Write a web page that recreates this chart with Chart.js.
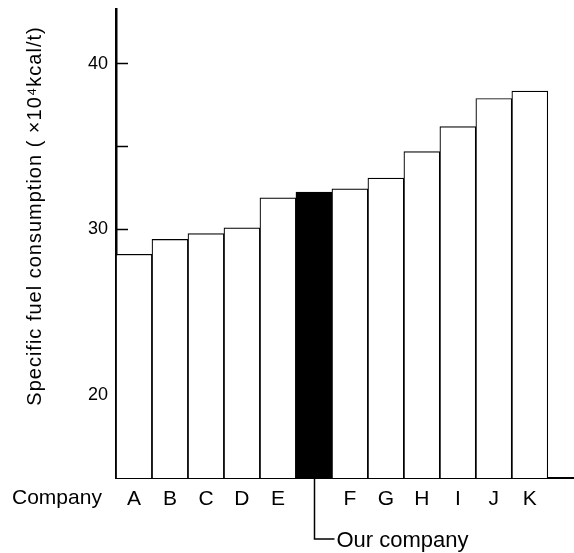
<!DOCTYPE html>
<html>
<head>
<meta charset="utf-8">
<script src="https://cdn.jsdelivr.net/npm/chart.js@4/dist/chart.umd.min.js"></script>
<style>
  html, body { margin: 0; padding: 0; background: #fff; }
  #wrap { width: 574px; height: 553px; }
</style>
</head>
<body>
<div id="wrap"><canvas id="c" width="574" height="553"></canvas></div>
<script>
// ---- data ----
const companies = ['A', 'B', 'C', 'D', 'E', 'Our company', 'F', 'G', 'H', 'I', 'J', 'K'];
const fuelConsumption = [28.5, 29.4, 29.75, 30.1, 31.9, 32.25, 32.45, 33.1, 34.7, 36.2, 37.9, 38.35];
const highlightCompany = 'Our company';
const yTickValues = [20, 25, 30, 35, 40];
const yTickLabels = ['20', '', '30', '', '40'];
const yTitle = 'Specific fuel consumption ( \u00d710\u2074kcal/t)';
const xRowLabel = 'Company';

const FONT = '"Liberation Sans", Arial, Helvetica, sans-serif';
const ourIndex = companies.indexOf(highlightCompany);

const annotations = {
  id: 'annotations',
  afterDraw(chart) {
    const ctx = chart.ctx;
    const xs = chart.scales.x;
    const area = chart.chartArea;
    ctx.save();
    ctx.fillStyle = '#000';
    ctx.strokeStyle = '#000';
    // row label
    ctx.font = '21px ' + FONT;
    ctx.textAlign = 'left';
    ctx.textBaseline = 'alphabetic';
    ctx.fillText(xRowLabel, 12, 504);
    // leader to highlighted bar
    const lx = Math.round(xs.getPixelForValue(ourIndex)) + 0.5;
    ctx.lineWidth = 1.5;
    ctx.beginPath();
    ctx.moveTo(lx, area.bottom);
    ctx.lineTo(lx, 539);
    ctx.lineTo(lx + 20, 539);
    ctx.stroke();
    ctx.font = '22px ' + FONT;
    ctx.fillText(highlightCompany, lx + 22, 547);
    // y title
    ctx.translate(41, 216);
    ctx.rotate(-Math.PI / 2);
    ctx.font = '20px ' + FONT;
    try { ctx.letterSpacing = '1px'; } catch (e) {}
    ctx.textAlign = 'center';
    ctx.fillText(yTitle, 0, 0);
    ctx.restore();
  }
};

new Chart(document.getElementById('c'), {
  type: 'bar',
  data: {
    datasets: [{
      data: fuelConsumption.map((v, i) => ({ x: i, y: v })),
      backgroundColor: companies.map(c => c === highlightCompany ? '#000' : '#fff'),
      borderColor: '#000',
      borderWidth: 1.2,
      barPercentage: 1,
      categoryPercentage: 1
    }]
  },
  plugins: [annotations],
  options: {
    responsive: false,
    animation: false,
    devicePixelRatio: 1,
    layout: { padding: { top: 9, right: 1, left: 0, bottom: 0 } },
    plugins: { legend: { display: false }, tooltip: { enabled: false } },
    scales: {
      x: {
        type: 'linear',
        min: -0.5,
        max: 12.2,
        offset: false,
        grid: { display: false, offset: false },
        border: { display: true, color: '#000', width: 2 },
        afterBuildTicks(scale) { scale.ticks = companies.map((c, i) => ({ value: i })); },
        afterFit(scale) { scale.height = 75; scale.paddingLeft = 0; scale.paddingRight = 0; },
        ticks: {
          autoSkip: false,
          maxRotation: 0,
          padding: 1,
          color: '#000',
          font: { family: FONT, size: 21 },
          callback: (v) => { const c = companies[v]; return c === highlightCompany ? '' : c; }
        }
      },
      y: {
        min: 15,
        max: 43.3,
        grid: { display: true, drawOnChartArea: false, drawTicks: true, tickLength: -12, tickColor: '#000', tickWidth: 1.5 },
        border: { display: true, color: '#000', width: 2.5 },
        afterBuildTicks(scale) { scale.ticks = yTickValues.map(v => ({ value: v })); },
        afterFit(scale) { scale.width = 116; scale.paddingTop = 0; scale.paddingBottom = 0; },
        ticks: {
          padding: 20,
          color: '#000',
          font: { family: FONT, size: 18 },
          callback: (v) => { const i = yTickValues.indexOf(v); return i >= 0 ? yTickLabels[i] : ''; }
        }
      }
    }
  }
});
</script>
</body>
</html>
